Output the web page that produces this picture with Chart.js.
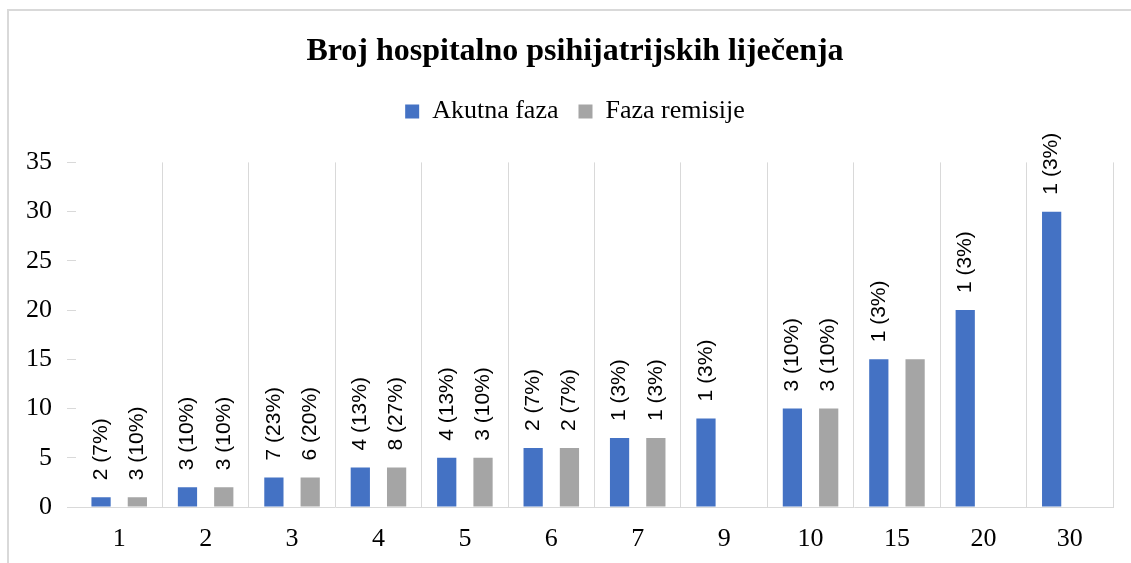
<!DOCTYPE html>
<html>
<head>
<meta charset="utf-8">
<script src="https://cdn.jsdelivr.net/npm/chart.js@4.4.0/dist/chart.umd.min.js"></script>
<style>
  html, body { margin: 0; padding: 0; background: #fff; }
  #wrap { width: 1131px; height: 563px; position: relative; }
</style>
</head>
<body>
<div id="wrap"><canvas id="chartLijecenja"></canvas></div>
<script>
// Podaci
const kategorije = ['1', '2', '3', '4', '5', '6', '7', '9', '10', '15', '20', '30'];
const akutnaFaza = [1, 2, 3, 4, 5, 6, 7, 9, 10, 15, 20, 30];
const fazaRemisije = [1, 2, 3, 4, 5, 6, 7, null, 10, 15, null, null];
const akutnaOznake = ['2 (7%)', '3 (10%)', '7 (23%)', '4 (13%)', '4 (13%)', '2 (7%)', '1 (3%)', '1 (3%)', '3 (10%)', '1 (3%)', '1 (3%)', '1 (3%)'];
const remisijaOznake = ['3 (10%)', '3 (10%)', '6 (20%)', '8 (27%)', '3 (10%)', '2 (7%)', '1 (3%)', '', '3 (10%)', '', '', ''];
const yTicks = [0, 5, 10, 15, 20, 25, 30, 35];

const serif = '"Liberation Serif", "Times New Roman", serif';

// okvir oko grafikona
const okvir = {
  id: 'okvir',
  beforeDraw(chart) {
    const c = chart.ctx;
    c.save();
    c.strokeStyle = '#d9d9d9';
    c.lineWidth = 2;
    c.strokeRect(8, 10, 1200, 700);
    c.restore();
  }
};

// razmak ispod legende, naslov i legenda malo udesno
const razmakLegende = {
  id: 'razmakLegende',
  beforeInit(chart) {
    const fit = chart.legend.fit;
    chart.legend.fit = function () {
      fit.bind(chart.legend)();
      this.height += 28;
    };
  },
  afterLayout(chart) {
    if (chart.titleBlock) chart.titleBlock.left += 37;
    chart.legend.left += 37;
  }
};

// oznake iznad stupaca (rotirane)
const oznake = {
  id: 'oznake',
  afterDatasetsDraw(chart) {
    const c = chart.ctx;
    const sve = [akutnaOznake, remisijaOznake];
    c.save();
    c.font = '21px "Liberation Sans", Arial, sans-serif';
    c.fillStyle = '#000';
    c.textAlign = 'left';
    c.textBaseline = 'middle';
    chart.data.datasets.forEach((ds, i) => {
      chart.getDatasetMeta(i).data.forEach((bar, j) => {
        const txt = sve[i][j];
        if (!txt || ds.data[j] == null) return;
        c.save();
        c.translate(bar.x, bar.y - 17);
        c.rotate(-Math.PI / 2);
        c.fillText(txt, 0, 0);
        c.restore();
      });
    });
    c.restore();
  }
};

new Chart(document.getElementById('chartLijecenja'), {
  type: 'bar',
  data: {
    labels: kategorije,
    datasets: [{
      label: 'Akutna faza',
      data: akutnaFaza,
      backgroundColor: '#4472C4',
      categoryPercentage: 0.84,
      barPercentage: 0.53
    }, {
      label: 'Faza remisije',
      data: fazaRemisije,
      backgroundColor: '#A5A5A5',
      categoryPercentage: 0.84,
      barPercentage: 0.53
    }]
  },
  options: {
    responsive: true,
    maintainAspectRatio: false,
    animation: false,
    layout: { padding: { left: 0, right: 18, top: 33, bottom: 0 } },
    plugins: {
      title: {
        display: true,
        text: 'Broj hospitalno psihijatrijskih liječenja',
        color: '#000',
        font: { family: serif, size: 32, weight: 'bold' },
        padding: { top: 0, bottom: 7 }
      },
      legend: {
        position: 'top',
        labels: {
          color: '#000',
          boxWidth: 14,
          boxHeight: 14,
          padding: 20,
          font: { family: serif, size: 26 }
        }
      },
      tooltip: { enabled: false }
    },
    scales: {
      x: {
        afterFit: (scale) => { scale.height = 56; },
        grid: {
          offset: true,
          drawTicks: false,
          color: (ctx) => ctx.index === 0 ? 'rgba(0,0,0,0)' : '#d9d9d9'
        },
        border: { color: '#d9d9d9', width: 1 },
        ticks: {
          color: '#000',
          padding: 17,
          maxRotation: 0,
          font: { family: serif, size: 26 }
        }
      },
      y: {
        min: 0,
        max: 35,
        afterFit: (scale) => { scale.width = 76; },
        afterBuildTicks: (axis) => { axis.ticks = yTicks.map(v => ({ value: v })); },
        grid: { drawOnChartArea: false, drawTicks: true, tickLength: 9, color: '#d9d9d9' },
        border: { display: false },
        ticks: {
          color: '#000',
          padding: 15,
          font: { family: serif, size: 26 }
        }
      }
    }
  },
  plugins: [okvir, razmakLegende, oznake]
});
</script>
</body>
</html>
